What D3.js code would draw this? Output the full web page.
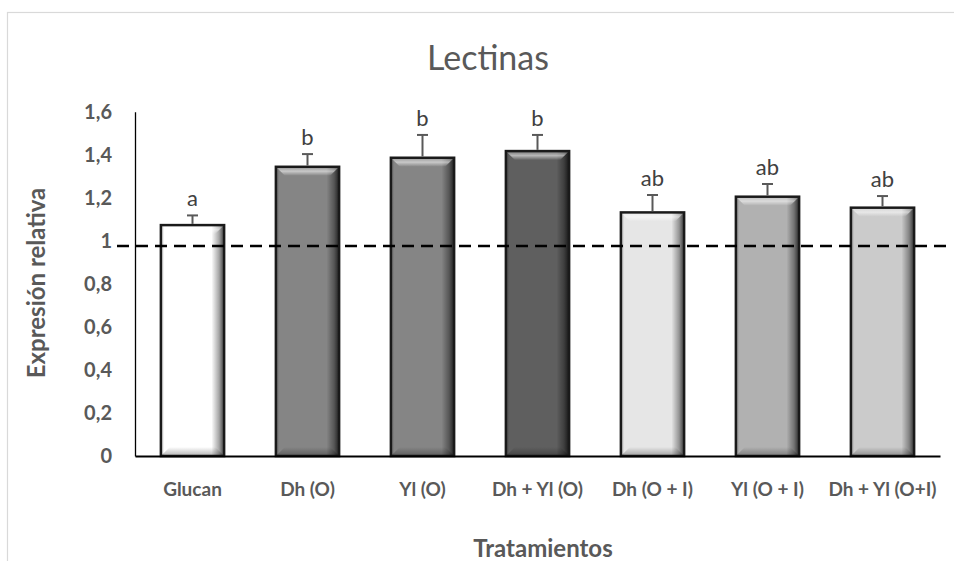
<!DOCTYPE html>
<html>
<head>
<meta charset="utf-8">
<script src="https://cdn.jsdelivr.net/npm/d3@7/dist/d3.min.js"></script>
<style>
  html, body { margin: 0; padding: 0; background: #fff; }
  svg { display: block; font-family: "Lato", "Open Sans", sans-serif; }
</style>
</head>
<body>
<svg id="chart" width="954" height="561"></svg>
<script>
// Treatments and their relative expression (mean, mean + SE) with significance letters
const categories = ["Glucan", "Dh (O)", "Yl (O)", "Dh + Yl (O)", "Dh (O + I)", "Yl (O + I)", "Dh + Yl (O+I)"];
const means      = [1.073, 1.344, 1.386, 1.417, 1.132, 1.205, 1.154];
const upperError = [1.118, 1.403, 1.492, 1.492, 1.213, 1.264, 1.208];
const letters    = ["a", "b", "b", "b", "ab", "ab", "ab"];
const barColors  = ["#ffffff", "#858585", "#858585", "#5f5f5f", "#e6e6e6", "#b1b1b1", "#cbcbcb"];
const yTicks     = [0, 0.2, 0.4, 0.6, 0.8, 1, 1.2, 1.4, 1.6];
const referenceLevel = 0.976;

const svg = d3.select("#chart");
const W = 954, H = 561;
const plot = { left: 135, right: 940, top: 111.7, bottom: 456 };
const FONT = "Lato, 'Open Sans', sans-serif";

svg.append("rect").attr("width", W).attr("height", H).attr("fill", "#fff");
// chart area frame
svg.append("rect")
  .attr("x", 7.5).attr("y", 12.5).attr("width", 980).attr("height", 600)
  .attr("fill", "none").attr("stroke", "#d9d9d9").attr("stroke-width", 1.2);

const x = d3.scaleBand().domain(categories).range([plot.left, plot.right])
  .paddingInner(0.45).paddingOuter(0.225);
const y = d3.scaleLinear().domain([0, 1.6]).range([plot.bottom, plot.top]);

// gradients for the bevelled bar look
const defs = svg.append("defs");
const gH = defs.append("linearGradient").attr("id", "edgeShade").attr("x1", 0).attr("x2", 1).attr("y1", 0).attr("y2", 0);
[[0, "#000", 0.35], [0.05, "#000", 0.0], [0.80, "#000", 0.0], [0.92, "#000", 0.35], [1, "#000", 0.75]]
  .forEach(([o, c, a]) => gH.append("stop").attr("offset", o).attr("stop-color", c).attr("stop-opacity", a));
const gTop = defs.append("linearGradient").attr("id", "topBevel").attr("x1", 0).attr("x2", 0).attr("y1", 0).attr("y2", 1);
[[0, "#fff", 0.15], [0.5, "#fff", 0.55], [1, "#fff", 0.0]]
  .forEach(([o, c, a]) => gTop.append("stop").attr("offset", o).attr("stop-color", c).attr("stop-opacity", a));
const gBot = defs.append("linearGradient").attr("id", "bottomBevel").attr("x1", 0).attr("x2", 0).attr("y1", 0).attr("y2", 1);
[[0, "#000", 0.0], [1, "#000", 0.3]]
  .forEach(([o, c, a]) => gBot.append("stop").attr("offset", o).attr("stop-color", c).attr("stop-opacity", a));

// title
svg.append("text").attr("x", 488).attr("y", 70).attr("text-anchor", "middle")
  .attr("font-size", 34).attr("font-weight", 400).attr("fill", "#595959").text("Lectinas");

// y axis
const yAxis = svg.append("g").attr("transform", `translate(${plot.left},0)`)
  .call(d3.axisLeft(y).tickValues(yTicks).tickSize(0).tickPadding(23)
    .tickFormat(d => d3.format(".1~f")(d).replace(".", ",")));
yAxis.select(".domain").attr("stroke", "#000").attr("stroke-width", 1.3);
yAxis.selectAll("text").attr("font-size", 20).attr("font-weight", "bold").attr("fill", "#595959")
  .attr("font-family", FONT);

// bars
const bw = x.bandwidth();
const bev = 9;
const bars = svg.append("g").selectAll("g").data(categories).join("g");
bars.each(function (c, i) {
  const g = d3.select(this);
  const x0 = x(c), y0 = y(means[i]), h = y(0) - y(means[i]);
  g.append("rect").attr("x", x0).attr("y", y0).attr("width", bw).attr("height", h).attr("fill", barColors[i]);
  g.append("rect").attr("x", x0).attr("y", y0).attr("width", bw).attr("height", h).attr("fill", "url(#edgeShade)");
  g.append("polygon")
    .attr("points", [[x0, y0], [x0 + bw, y0], [x0 + bw - bev, y0 + bev], [x0 + bev, y0 + bev]].map(p => p.join(",")).join(" "))
    .attr("fill", "url(#topBevel)");
  g.append("polygon")
    .attr("points", [[x0 + bev, y(0) - bev], [x0 + bw - bev, y(0) - bev], [x0 + bw, y(0)], [x0, y(0)]].map(p => p.join(",")).join(" "))
    .attr("fill", "url(#bottomBevel)");
  g.append("rect").attr("x", x0).attr("y", y0).attr("width", bw).attr("height", h)
    .attr("fill", "none").attr("stroke", "#1a1a1a").attr("stroke-width", 2.5);
});

// error bars (upper only)
const err = svg.append("g").attr("stroke", "#595959").attr("stroke-width", 2);
categories.forEach((c, i) => {
  const cx = x(c) + bw / 2;
  err.append("line").attr("x1", cx).attr("x2", cx).attr("y1", y(means[i]) - 1.2).attr("y2", y(upperError[i]));
  err.append("line").attr("x1", cx - 5.5).attr("x2", cx + 5.5).attr("y1", y(upperError[i])).attr("y2", y(upperError[i]));
});

// significance letters
svg.append("g").selectAll("text").data(categories).join("text")
  .attr("x", c => x(c) + bw / 2)
  .attr("y", (c, i) => y(upperError[i]) - 9)
  .attr("text-anchor", "middle").attr("font-size", 22).attr("fill", "#404040")
  .text((c, i) => letters[i]);

// x axis
const xAxis = svg.append("g").attr("transform", `translate(0,${plot.bottom})`)
  .call(d3.axisBottom(x).tickSize(0).tickPadding(27));
xAxis.select(".domain").attr("stroke", "#000").attr("stroke-width", 2);
xAxis.selectAll("text").attr("font-size", 19).attr("font-weight", "bold").attr("fill", "#595959")
  .attr("font-family", FONT);

// reference line at control level
svg.append("line")
  .attr("x1", 117).attr("x2", 950).attr("y1", y(referenceLevel)).attr("y2", y(referenceLevel))
  .attr("stroke", "#000").attr("stroke-width", 2.6).attr("stroke-dasharray", "12,7");

// axis titles
svg.append("text").attr("x", 543).attr("y", 557).attr("text-anchor", "middle")
  .attr("font-size", 24).attr("font-weight", "bold").attr("fill", "#595959").text("Tratamientos");
svg.append("text").attr("transform", "translate(45,283) rotate(-90)").attr("text-anchor", "middle")
  .attr("font-size", 24).attr("font-weight", "bold").attr("fill", "#595959").text("Expresión relativa");
</script>
</body>
</html>
